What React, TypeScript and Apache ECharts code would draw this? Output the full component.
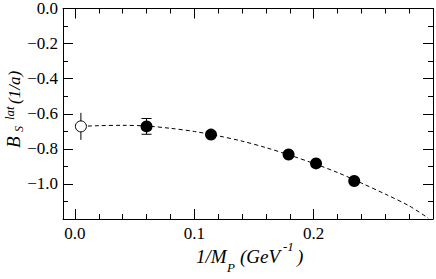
import React, { useEffect, useRef } from "react";
import * as echarts from "echarts";

// ---- data ----
const curveX = [0.005, 0.02, 0.04, 0.06, 0.08, 0.10, 0.12, 0.14, 0.16, 0.18, 0.20, 0.22, 0.24, 0.26, 0.28, 0.296];
const curveY = [-0.672, -0.668, -0.666, -0.670, -0.683, -0.701, -0.726, -0.756, -0.793, -0.836, -0.883, -0.935, -0.995, -1.058, -1.125, -1.195];

const openX = [0.005];
const openY = [-0.672];
const openErr = [0.077];

const filledX = [0.060, 0.114, 0.179, 0.202, 0.234];
const filledY = [-0.672, -0.719, -0.832, -0.883, -0.983];
const filledErr = [0.045, 0.012, 0.012, 0.012, 0.012];

const X_MIN = -0.01;
const X_MAX = 0.30;
const Y_MIN = -1.2;
const Y_MAX = 0;

const SERIF = "Liberation Serif, Times New Roman, serif";

const fmtY = (v: number) => {
  if (Math.abs(v + 1.2) < 1e-6) return "";
  const s = Math.abs(v).toFixed(1);
  return v < -1e-9 ? "\u2212" + s : s;
};
const fmtX = (v: number) => {
  const r = Math.round(v * 10) / 10;
  if (Math.abs(v - r) > 1e-6) return "";
  if (r > 0.25) return "";
  return r.toFixed(1);
};

function errRender(withCaps: boolean) {
  return (params: any, api: any) => {
    const x = api.value(0);
    const lo = api.value(1);
    const hi = api.value(2);
    const pLo = api.coord([x, lo]);
    const pHi = api.coord([x, hi]);
    const st = { stroke: "#000", lineWidth: 1 };
    const children: any[] = [
      { type: "line", shape: { x1: pLo[0], y1: pLo[1], x2: pHi[0], y2: pHi[1] }, style: st },
    ];
    if (withCaps) {
      const w = 5;
      children.push({ type: "line", shape: { x1: pLo[0] - w, y1: pLo[1], x2: pLo[0] + w, y2: pLo[1] }, style: st });
      children.push({ type: "line", shape: { x1: pHi[0] - w, y1: pHi[1], x2: pHi[0] + w, y2: pHi[1] }, style: st });
    }
    return { type: "group", children };
  };
}

function txt(text: string, x: number, y: number, size: number) {
  return {
    type: "text",
    x,
    y,
    style: {
      text,
      fill: "#000",
      fontFamily: SERIF,
      fontSize: size,
      fontStyle: "italic",
      textAlign: "left",
      verticalAlign: "bottom",
      textVerticalAlign: "bottom",
    },
  };
}

export default function App() {
  const ref = useRef<HTMLDivElement>(null);
  useEffect(() => {
    if (!ref.current) return;
    const chart = echarts.init(ref.current, undefined, { renderer: "svg" });

    const axisLine = { show: true, onZero: false, lineStyle: { color: "#000", width: 1 } };
    const majorTick = { show: true, inside: true, length: 10, lineStyle: { color: "#000", width: 1 } };
    const minorTick = { show: true, splitNumber: 5, length: 5, lineStyle: { color: "#000", width: 1 } };

    const xCommon = {
      type: "value" as const,
      min: X_MIN,
      max: X_MAX,
      minInterval: 0.1,
      maxInterval: 0.1,
      splitNumber: 3,
      axisLine,
      axisTick: majorTick,
      minorTick,
      splitLine: { show: false },
    };
    const yCommon = {
      type: "value" as const,
      min: Y_MIN,
      max: Y_MAX,
      interval: 0.2,
      axisLine,
      axisTick: majorTick,
      minorTick: { ...minorTick, splitNumber: 2 },
      splitLine: { show: false },
    };

    chart.setOption({
      animation: false,
      backgroundColor: "#fff",
      grid: { left: 63, right: 3, top: 7, bottom: 60, containLabel: false },
      xAxis: [
        {
          ...xCommon,
          position: "bottom",
          axisLabel: {
            show: true,
            margin: 6,
            color: "#000",
            fontFamily: SERIF,
            fontSize: 17,
            formatter: fmtX,
            showMinLabel: false,
            showMaxLabel: false,
          },
        },
        { ...xCommon, position: "top", axisLabel: { show: false } },
      ],
      yAxis: [
        {
          ...yCommon,
          position: "left",
          axisLabel: {
            show: true,
            margin: 5,
            color: "#000",
            fontFamily: SERIF,
            fontSize: 17,
            formatter: fmtY,
          },
        },
        { ...yCommon, position: "right", axisLabel: { show: false } },
      ],
      series: [
        {
          type: "line",
          data: curveX.map((x, i) => [x, curveY[i]]),
          smooth: 0.3,
          showSymbol: false,
          symbol: "none",
          lineStyle: { color: "#000", width: 1, type: [4, 3] },
          z: 2,
        },
        {
          type: "custom",
          renderItem: errRender(false),
          data: openX.map((x, i) => [x, openY[i] - openErr[i], openY[i] + openErr[i]]),
          encode: { x: 0, y: [1, 2] },
          z: 3,
        },
        {
          type: "custom",
          renderItem: errRender(true),
          data: filledX.map((x, i) => [x, filledY[i] - filledErr[i], filledY[i] + filledErr[i]]),
          encode: { x: 0, y: [1, 2] },
          z: 3,
        },
        {
          type: "scatter",
          data: openX.map((x, i) => [x, openY[i]]),
          symbol: "circle",
          symbolSize: 11,
          itemStyle: { color: "#fff", borderColor: "#000", borderWidth: 1, opacity: 1 },
          z: 4,
        },
        {
          type: "scatter",
          data: filledX.map((x, i) => [x, filledY[i]]),
          symbol: "circle",
          symbolSize: 12,
          itemStyle: { color: "#000", opacity: 1 },
          z: 4,
        },
      ],
      graphic: [
        {
          type: "group",
          x: 20,
          y: 148,
          rotation: Math.PI / 2,
          children: [
            txt("B", 0, 3, 19),
            txt("S", 16, 5, 12),
            txt("lat", 28, -4, 13),
            txt("(1/a)", 44, 3, 17),
          ],
        },
        {
          type: "group",
          x: 0,
          y: 0,
          children: [
            txt("1/M", 196, 266, 19),
            txt("P", 227, 274, 13),
            txt("(GeV", 240, 266, 19),
            txt("-1", 283, 253, 13),
            txt(")", 297, 266, 19),
          ],
        },
      ],
    });
    return () => chart.dispose();
  }, []);
  return (
    <div
      ref={ref}
      style={{ position: "absolute", left: 0, top: 0, width: 436, height: 279, background: "#fff" }}
    />
  );
}
